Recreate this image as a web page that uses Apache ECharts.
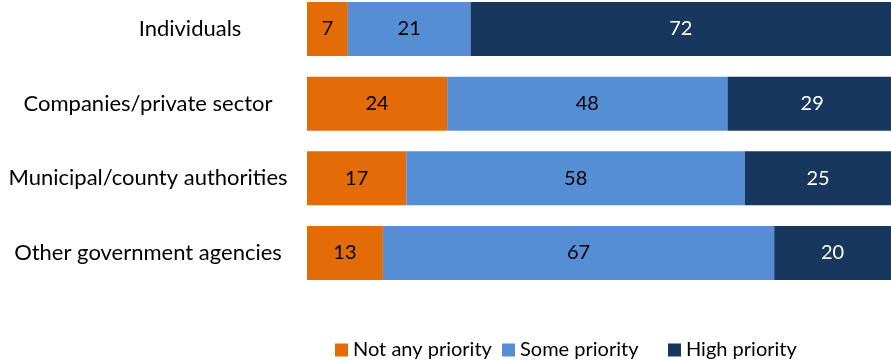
<!DOCTYPE html>
<html>
<head>
<meta charset="utf-8">
<script src="https://cdn.jsdelivr.net/npm/echarts@6/dist/echarts.min.js"></script>
<style>html,body{margin:0;padding:0;background:#fff}#c{width:891px;height:360px}</style>
</head>
<body>
<div id="c"></div>
<script>
const categories = ['Individuals', 'Companies/private sector', 'Municipal/county authorities', 'Other government agencies'];
const seriesNames = ['Not any priority', 'Some priority', 'High priority'];
const notAny = [7, 24, 17, 13];
const some = [21, 48, 58, 67];
const high = [72, 29, 25, 20];

const FONT = 'Lato';
const colors = ['#E36C09', '#558ED5', '#17375E'];
const labelColors = ['#000', '#000', '#fff'];
const values = [notAny, some, high];

const chart = echarts.init(document.getElementById('c'));
const series = seriesNames.map((name, i) => ({
  name: name,
  type: 'bar',
  stack: 'total',
  barWidth: 54,
  clip: false,
  data: values[i],
  itemStyle: { color: colors[i] },
  label: {
    show: true,
    position: 'inside',
    color: labelColors[i],
    fontFamily: FONT,
    fontSize: 20
  }
}));

const legendLeft = [335, 502, 668];
chart.setOption({
  animation: false,
  grid: { left: 307, right: 0, top: 29, bottom: 107, containLabel: false, outerBoundsMode: 'none' },
  xAxis: { type: 'value', min: 0, max: 100, show: false },
  yAxis: {
    type: 'category',
    inverse: true,
    boundaryGap: false,
    data: categories,
    axisLine: { show: false },
    axisTick: { show: false },
    splitLine: { show: false },
    axisLabel: {
      align: 'center',
      margin: 159,
      color: '#000',
      fontFamily: FONT,
      fontSize: 22,
      formatter: (v, idx) => idx === 0 ? '{sp| }{t|' + v + '}' : '{t|' + v + '}',
      rich: {
        sp: { width: 84, fontFamily: FONT, fontSize: 22 },
        t: { fontFamily: FONT, fontSize: 22, color: '#000' }
      }
    }
  },
  legend: seriesNames.map((n, i) => ({
    data: [n],
    left: legendLeft[i],
    top: 340,
    padding: 0,
    itemWidth: 13,
    itemHeight: 13,
    icon: 'rect',
    textStyle: { fontFamily: FONT, fontSize: 20, color: '#000' }
  })),
  series: series
});
</script>
</body>
</html>
